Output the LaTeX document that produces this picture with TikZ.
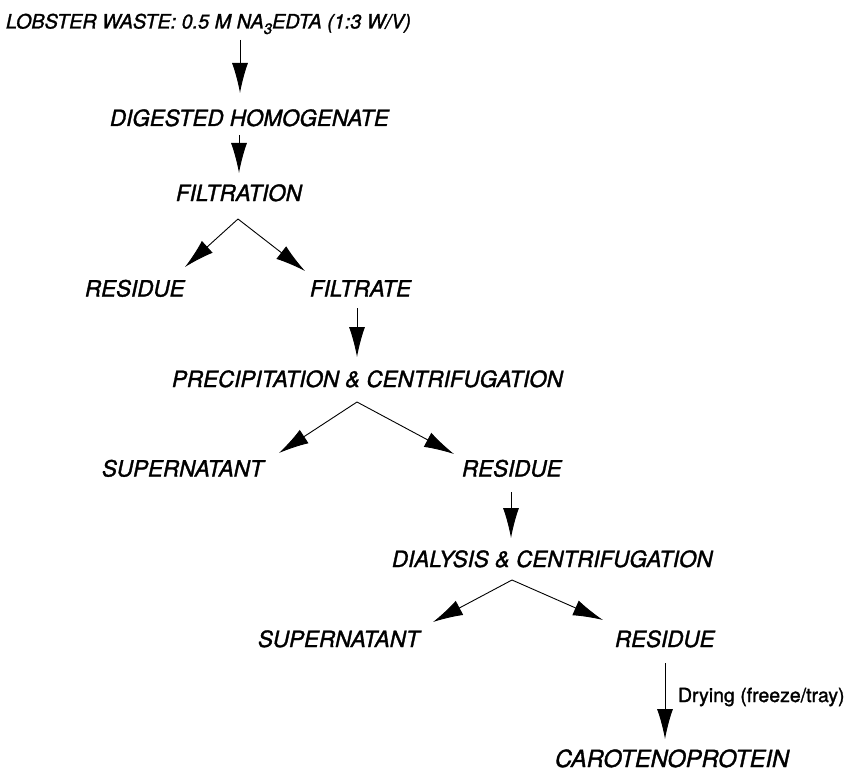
\documentclass[tikz,border=0pt]{standalone}
\usepackage{fontspec}
\setmainfont[FakeBold=1.4]{TeX Gyre Heros}
\usetikzlibrary{arrows.meta}
\begin{document}
\begin{tikzpicture}[x=1pt,y=-1pt,inner sep=0pt,outer sep=0pt,
    stage/.style={anchor=west,text height=16pt,text depth=0pt,font=\fontsize{22.4}{26}\selectfont\itshape},
    flow/.style={-{Latex[length=30pt,width=16pt]},line width=0.9pt}]
  \useasboundingbox (0,0) rectangle (851,773);
    %
  \node[stage,font=\fontsize{19.8}{24}\selectfont\itshape] (lobster) at (6,20.5)
    {LOBSTER WASTE: 0.5 M NA\raisebox{-5.5pt}{\fontsize{15}{15}\selectfont 3}EDTA (1:3 W/V)};
  \node[stage] (digested) at (110,118) {DIGESTED HOMOGENATE};
  \node[stage] (filtration) at (176,193) {FILTRATION};
  \node[stage] (residue_a) at (85,288.5) {RESIDUE};
  \node[stage] (filtrate) at (310,288.5) {FILTRATE};
  \node[stage] (precip) at (172,379) {PRECIPITATION \& CENTRIFUGATION};
  \node[stage] (super_a) at (102,468.5) {SUPERNATANT};
  \node[stage] (residue_b) at (462,468.5) {RESIDUE};
  \node[stage] (dialysis) at (392,559) {DIALYSIS \& CENTRIFUGATION};
  \node[stage] (super_b) at (258,639) {SUPERNATANT};
  \node[stage] (residue_c) at (615,639) {RESIDUE};
  \node[stage,font=\fontsize{23.6}{28}\selectfont\itshape] (carot) at (555,759) {CAROTENOPROTEIN};
  \node[anchor=west,font=\fontsize{19.5}{23}\selectfont] (drying) at (678,697) {Drying (freeze/tray)};
    %
  \draw[flow] ([xshift=234pt,yshift=-11.5pt]lobster.south west) -- ([xshift=130pt,yshift=17pt]digested.north west);
  \draw[flow] ([xshift=129pt,yshift=-9pt]digested.south west) -- ([xshift=63pt,yshift=12pt]filtration.north west);
  \draw[flow] ([xshift=62pt,yshift=-18pt]filtration.south west) -- ([xshift=100pt,yshift=13.5pt]residue_a.north west);
  \draw[flow] ([xshift=62pt,yshift=-18pt]filtration.south west) -- ([xshift=-5pt,yshift=9.5pt]filtrate.north west);
  \draw[flow] ([xshift=47pt,yshift=-11.5pt]filtrate.south west) -- ([xshift=185pt,yshift=14pt]precip.north west);
  \draw[flow] ([xshift=185pt,yshift=-15pt]precip.south west) -- ([xshift=177pt,yshift=7.5pt]super_a.north west);
  \draw[flow] ([xshift=185pt,yshift=-15pt]precip.south west) -- ([xshift=-8pt,yshift=6.5pt]residue_b.north west);
  \draw[flow] ([xshift=49pt,yshift=-15.5pt]residue_b.south west) -- ([xshift=119pt,yshift=13pt]dialysis.north west);
  \draw[flow] ([xshift=120pt,yshift=-13pt]dialysis.south west) -- ([xshift=175pt,yshift=9pt]super_b.north west);
  \draw[flow] ([xshift=120pt,yshift=-13pt]dialysis.south west) -- ([xshift=-12pt,yshift=11pt]residue_c.north west);
  \draw[flow] ([xshift=50pt,yshift=-16pt]residue_c.south west) -- ([xshift=110pt,yshift=12pt]carot.north west);

\end{tikzpicture}
\end{document}
